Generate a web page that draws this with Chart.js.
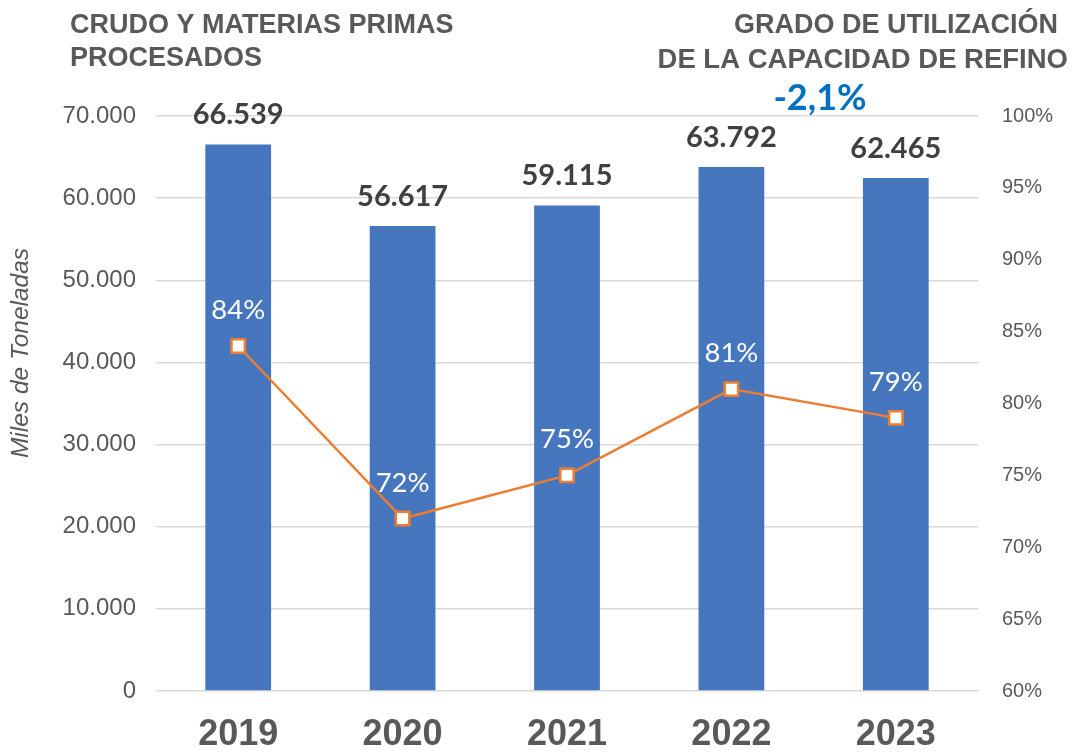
<!DOCTYPE html>
<html>
<head>
<meta charset="utf-8">
<script src="https://cdn.jsdelivr.net/npm/chart.js@4/dist/chart.umd.min.js"></script>
<style>
  html, body { margin: 0; padding: 0; background: #fff; }
  #wrap { width: 1074px; height: 752px; position: relative; }
</style>
</head>
<body>
<div id="wrap"><canvas id="chart" width="1074" height="752"></canvas></div>
<script>
// datos
var years = ['2019', '2020', '2021', '2022', '2023'];
var crudoProcesado = [66539, 56617, 59115, 63792, 62465];   // miles de toneladas
var utilizacion = [84, 72, 75, 81, 79];                     // %
var variacion = '-2,1%';

var grey = '#595959';

function fmtMiles(v) {
    return String(Math.round(v)).replace(/\B(?=(\d{3})+(?!\d))/g, '.');
}

// etiquetas de datos sobre barras y puntos
var labelsPlugin = {
    id: 'labels',
    afterDatasetsDraw: function (chart) {
        var ctx = chart.ctx;
        ctx.save();
        ctx.textAlign = 'center';
        ctx.textBaseline = 'alphabetic';

        var barMeta = chart.getDatasetMeta(1);
        ctx.font = 'bold 29px Lato';
        ctx.fillStyle = '#404040';
        barMeta.data.forEach(function (el, i) {
            ctx.fillText(fmtMiles(crudoProcesado[i]), el.x, el.y - 20);
        });

        var lineMeta = chart.getDatasetMeta(0);
        ctx.font = '27.5px Lato';
        ctx.fillStyle = '#ffffff';
        lineMeta.data.forEach(function (el, i) {
            ctx.fillText(utilizacion[i] + '%', el.x, el.y - 27);
        });
        ctx.restore();
    },
    afterDraw: function (chart) {
        var ctx = chart.ctx;
        ctx.save();
        ctx.fillStyle = grey;
        ctx.textBaseline = 'middle';
        ctx.font = 'bold 27px "Liberation Sans"';
        ctx.textAlign = 'left';
        ctx.fillText('CRUDO Y MATERIAS PRIMAS', 70, 26);
        ctx.fillText('PROCESADOS', 70, 59);
        ctx.textAlign = 'right';
        ctx.fillText('GRADO DE UTILIZACIÓN', 1058, 26);
        ctx.font = 'bold 27.5px "Liberation Sans"';
        ctx.fillText('DE LA CAPACIDAD DE REFINO', 1068, 60);

        ctx.textAlign = 'center';
        ctx.fillStyle = '#0070C0';
        ctx.font = 'bold 36px Lato';
        ctx.fillText(variacion, 820, 98);

        // titulo eje
        ctx.translate(21, 353);
        ctx.rotate(-Math.PI / 2);
        ctx.fillStyle = grey;
        ctx.font = 'italic 24.5px "Liberation Sans"';
        ctx.fillText('Miles de Toneladas', 0, 0);
        ctx.restore();
    }
};

var ctx = document.getElementById('chart').getContext('2d');
new Chart(ctx, {
    type: 'bar',
    data: {
        labels: years,
        datasets: [
            {
                type: 'line',
                label: 'Grado de utilización',
                data: utilizacion,
                yAxisID: 'y1',
                borderColor: '#ED7D31',
                borderWidth: 2.5,
                pointStyle: 'rect',
                pointRadius: 9.5,
                pointBorderWidth: 2.5,
                pointBackgroundColor: '#ffffff',
                pointBorderColor: '#ED7D31',
                tension: 0,
                order: 0
            },
            {
                type: 'bar',
                label: 'Crudo y materias primas procesados',
                data: crudoProcesado,
                yAxisID: 'y',
                backgroundColor: '#4677BE',
                barPercentage: 0.4,
                categoryPercentage: 1.0,
                order: 1
            }
        ]
    },
    options: {
        responsive: false,
        animation: false,
        layout: { padding: { top: 116, left: 0, right: 0, bottom: 0 } },
        plugins: {
            legend: { display: false },
            tooltip: { enabled: false }
        },
        scales: {
            x: {
                grid: { display: false, drawTicks: false },
                border: { display: false },
                ticks: {
                    color: grey,
                    font: { family: 'Liberation Sans', size: 36, weight: 'bold' },
                    padding: 22
                },
                afterFit: function (s) { s.height = 61; }
            },
            y: {
                position: 'left',
                min: 0,
                max: 70000,
                ticks: {
                    stepSize: 10000,
                    color: grey,
                    font: { family: 'Liberation Sans', size: 24 },
                    padding: 20,
                    callback: function (v) { return fmtMiles(v); }
                },
                grid: { color: '#D9D9D9', lineWidth: 1.5, drawTicks: false },
                border: { display: false },
                afterFit: function (s) { s.width = 156; }
            },
            y1: {
                position: 'right',
                min: 60,
                max: 100,
                ticks: {
                    stepSize: 5,
                    color: grey,
                    font: { family: 'Liberation Sans', size: 20 },
                    padding: 24,
                    callback: function (v) { return v + '%'; }
                },
                grid: { display: false, drawTicks: false },
                border: { display: false },
                afterFit: function (s) { s.width = 96; }
            }
        }
    },
    plugins: [labelsPlugin]
});
</script>
</body>
</html>
